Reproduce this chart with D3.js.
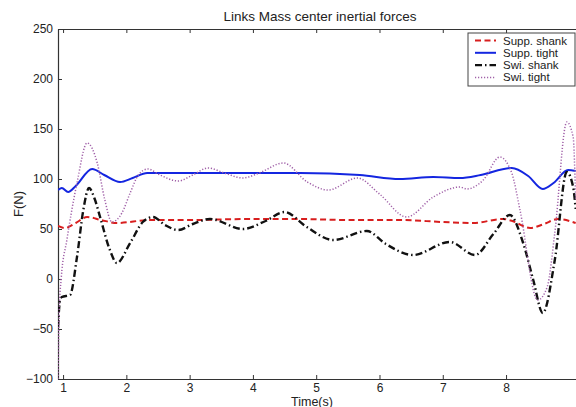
<!DOCTYPE html>
<html>
<head>
<meta charset="utf-8">
<script src="https://cdn.jsdelivr.net/npm/d3@7"></script>
<style>
  html, body { margin: 0; padding: 0; background: #fff; }
  svg { display: block; font-family: "Liberation Sans", Arial, sans-serif; }
</style>
</head>
<body>
<svg id="chart" width="576" height="407"></svg>
<script>
// Inertial forces at the links' mass centres, sampled over time (s) in newtons.
const suppShankT = [0.92, 1.03, 1.2, 1.38, 1.6, 1.85, 2.37, 3.0, 3.95, 4.74, 5.5, 6.32, 7.0, 7.48, 7.95, 8.1, 8.38, 8.6, 8.82, 9.1];
const suppShankF = [53, 51, 56, 62, 59, 56, 59, 59, 60, 60, 59, 59, 57, 56, 60, 58, 51, 55, 60, 56];

const suppTightT = [0.92, 0.98, 1.08, 1.2, 1.46, 1.65, 1.9, 2.1, 2.33, 2.9, 3.95, 4.74, 5.69, 6.32, 6.85, 7.27, 7.6, 8.09, 8.35, 8.58, 8.75, 8.98, 9.1];
const suppTightF = [89, 91, 87, 93, 110, 104, 97, 101, 106, 106, 106, 106, 104, 100, 102, 101, 104, 111, 103, 90, 96, 109, 108];

const swiShankT = [0.92, 0.95, 0.98, 1.11, 1.22, 1.32, 1.41, 1.5, 1.585, 1.74, 1.85, 2.06, 2.26, 2.42, 2.61, 2.82, 3.05, 3.32, 3.84, 4.2, 4.5, 4.85, 5.27, 5.8, 6.1, 6.53, 7.11, 7.51, 7.8, 8.06, 8.27, 8.43, 8.58, 8.77, 8.96, 9.06, 9.1];
const swiShankF = [-48, -22, -18, -16, 22, 69, 91, 80, 62, 29, 16, 36, 57, 62, 54, 49, 55, 60, 50, 58, 67, 52, 39, 48, 35, 24, 37, 24, 45, 64, 36, -1, -34, 19, 107, 92, 70];

const swiTightT = [0.92, 0.94, 0.97, 1.06, 1.22, 1.38, 1.54, 1.66, 1.77, 1.93, 2.06, 2.19, 2.34, 2.53, 2.82, 3.05, 3.29, 3.55, 3.84, 4.1, 4.48, 4.86, 5.19, 5.65, 6.0, 6.43, 6.85, 7.27, 7.38, 7.64, 7.9, 8.09, 8.22, 8.5, 8.65, 8.77, 8.96, 9.06, 9.1];
const swiTightF = [-100, -30, 0, 39, 96, 136, 116, 79, 57, 66, 86, 104, 110, 104, 98, 104, 111, 106, 101, 106, 116, 97, 89, 101, 85, 62, 82, 92, 90, 99, 122, 106, 69, -21, -8, 46, 157, 142, 79];

const xTicks = [1, 2, 3, 4, 5, 6, 7, 8];
const yTicks = [-100, -50, 0, 50, 100, 150, 200, 250];

const seriesNames = ["Supp. shank", "Supp. tight", "Swi. shank", "Swi. tight"];
const seriesColors = ["#d81e1e", "#1426e0", "#111111", "#a060a8"];
const seriesDash = ["6,3.5", null, "7,3,1.5,3", "1.2,1.8"];
const seriesWidth = [2, 2, 2.4, 1.5];

const series = [
  d3.zip(suppShankT, suppShankF),
  d3.zip(suppTightT, suppTightF),
  d3.zip(swiShankT, swiShankF),
  d3.zip(swiTightT, swiTightF)
];

const svg = d3.select("#chart");
const m = { left: 58, top: 29, right: 582, bottom: 379 };

const x = d3.scaleLinear().domain([0.92, 9.2]).range([m.left, m.right]);
const y = d3.scaleLinear().domain([-100, 250]).range([m.bottom, m.top]);

svg.append("defs").append("clipPath").attr("id", "plotClip")
  .append("rect")
  .attr("x", m.left).attr("y", m.top - 1)
  .attr("width", m.right - m.left).attr("height", m.bottom - m.top + 2);

// Axes box with inward ticks
const tickLen = 4;
const axisColor = "#333";

const xBottom = d3.axisBottom(x).tickValues(xTicks).tickSizeInner(-tickLen).tickSizeOuter(0).tickPadding(4).tickFormat(d3.format("d"));
const xTop = d3.axisTop(x).tickValues(xTicks).tickSizeInner(-tickLen).tickSizeOuter(0).tickFormat("");
const yLeft = d3.axisLeft(y).tickValues(yTicks).tickSizeInner(-tickLen).tickSizeOuter(0).tickPadding(5).tickFormat(d3.format("d"));
const yRight = d3.axisRight(y).tickValues(yTicks).tickSizeInner(-tickLen).tickSizeOuter(0).tickFormat("");

function styleAxis(g) {
  g.select(".domain").attr("stroke", axisColor).attr("stroke-width", 1.2);
  g.selectAll(".tick line").attr("stroke", axisColor);
  g.selectAll(".tick text").attr("fill", "#222").style("font-size", "12px").style("font-family", "'Liberation Sans', Arial, sans-serif");
}

svg.append("g").attr("transform", `translate(0,${m.bottom})`).call(xBottom).call(styleAxis);
svg.append("g").attr("transform", `translate(0,${m.top})`).call(xTop).call(styleAxis);
svg.append("g").attr("transform", `translate(${m.left},0)`).call(yLeft).call(styleAxis);
svg.append("g").attr("transform", `translate(${m.right},0)`).call(yRight).call(styleAxis);

// Curves
const line = d3.line()
  .x(d => x(d[0]))
  .y(d => y(d[1]))
  .curve(d3.curveMonotoneX);

const plot = svg.append("g").attr("clip-path", "url(#plotClip)");
series.forEach((s, i) => {
  plot.append("path")
    .datum(s)
    .attr("d", line)
    .attr("fill", "none")
    .attr("stroke", seriesColors[i])
    .attr("stroke-width", seriesWidth[i])
    .attr("stroke-dasharray", seriesDash[i])
    .attr("stroke-linejoin", "round");
});

// Titles
svg.append("text")
  .attr("x", 320).attr("y", 21)
  .attr("text-anchor", "middle")
  .style("font-size", "13.5px")
  .attr("fill", "#222")
  .text("Links Mass center inertial forces");

svg.append("text")
  .attr("x", 312).attr("y", 405.5)
  .attr("text-anchor", "middle")
  .style("font-size", "12.5px")
  .attr("fill", "#222")
  .text("Time(s)");

svg.append("text")
  .attr("transform", "translate(23,204) rotate(-90)")
  .attr("text-anchor", "middle")
  .style("font-size", "13px")
  .attr("fill", "#222")
  .text("F(N)");

// Legend
const lg = svg.append("g");
lg.append("rect")
  .attr("x", 468).attr("y", 33)
  .attr("width", 107).attr("height", 53)
  .attr("fill", "#fff")
  .attr("stroke", "#444")
  .attr("stroke-width", 1);

seriesNames.forEach((name, i) => {
  const yy = 40.5 + i * 12.3;
  lg.append("line")
    .attr("x1", 475).attr("x2", 496)
    .attr("y1", yy).attr("y2", yy)
    .attr("stroke", seriesColors[i])
    .attr("stroke-width", seriesWidth[i])
    .attr("stroke-dasharray", seriesDash[i]);
  lg.append("text")
    .attr("x", 503).attr("y", yy + 4)
    .style("font-size", "11.5px")
    .attr("fill", "#222")
    .text(name);
});
</script>
</body>
</html>
